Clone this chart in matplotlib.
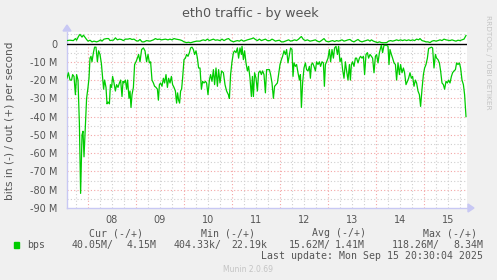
import matplotlib
matplotlib.use("Agg")
import matplotlib.pyplot as plt
from matplotlib.patches import Rectangle

# ---------------- data (hours since Sep 07 00:00, Mbit/s) ----------------
in_points = [
    (13.5, 18.9), (14.2, 16), (15, 20), (15.8, 20), (16.3, 17), (17, 18), (17.7, 28), (18.3, 17),
    (19, 20), (19.7, 44), (20.3, 82), (21, 50), (21.5, 48), (22, 62), (22.7, 44), (23.3, 30),
    (24, 24), (24.5, 19), (25, 8), (25.5, 7), (26, 10), (26.7, 5), (27.3, 2), (28, 2),
    (28.7, 10), (29.3, 4), (30, 6), (30.7, 11), (31.3, 19), (31.8, 25), (32.3, 20), (33, 24),
    (33.5, 33), (34, 32), (34.7, 33), (35.2, 22.5), (35.8, 24), (36.3, 18), (37, 21.6), (37.7, 26),
    (38.3, 22.5), (39, 24), (39.7, 21.6), (40.3, 20), (41, 29), (41.5, 20.7), (42, 21.6), (42.7, 20),
    (43.3, 25), (43.8, 20), (44.5, 30), (45, 26), (45.5, 35), (46, 28), (46.7, 24), (47.3, 11.5),
    (48, 10), (48.7, 8), (49.3, 6), (50, 10), (50.8, 3.3), (51.7, 2.4), (52.5, 4), (53.3, 10),
    (54, 6), (54.7, 10.6), (55.3, 10), (56, 20), (56.7, 21.6), (57.3, 23.4), (58, 24), (58.7, 25),
    (59.2, 31), (59.7, 22.5), (60.3, 21.6), (61, 23.4), (61.7, 19), (62.3, 21.6), (63, 17), (63.7, 24),
    (64.3, 19), (65, 21.6), (65.7, 18), (66.3, 22.5), (67, 24), (67.7, 26), (68.3, 32.6), (68.8, 27),
    (69.3, 31), (69.8, 32.6), (70.3, 26), (70.8, 25), (71.3, 19), (72, 8.8), (72.7, 8), (73.3, 6),
    (74, 7), (74.7, 5), (75.3, 2.4), (76, 2), (76.7, 3.3), (77.3, 6), (78, 4), (78.7, 8),
    (79.3, 13.4), (80, 13.4), (80.7, 25), (81.3, 20.7), (82, 21.6), (82.7, 20.7), (83.3, 21.6), (84, 28),
    (84.7, 20), (85.3, 17), (86, 20.7), (86.7, 14.3), (87.3, 22.5), (88, 13.4), (88.7, 23.4), (89.3, 14.3),
    (90, 21.6), (90.8, 15), (91.7, 16), (92.5, 22.5), (93.3, 26), (94.2, 28), (94.7, 30), (95.3, 17),
    (96, 10), (96.7, 5), (97.3, 4), (98, 5), (98.7, 2.4), (99.3, 8), (100, 2.4), (100.7, 6),
    (101, 1.5), (101.7, 8.8), (102.3, 4), (103, 10.6), (103.7, 15), (104.3, 12.5), (105, 19), (105.7, 29),
    (106.2, 18), (106.7, 29), (107.3, 16), (108, 19), (108.7, 26), (109.3, 16), (110, 15), (110.7, 17),
    (111.3, 15), (112, 17), (112.7, 27), (113.3, 14.3), (114, 14.3), (114.7, 14.3), (115.3, 17), (116, 21.6),
    (116.7, 30), (117.3, 23.4), (118, 22.5), (118.7, 21.6), (119.3, 17), (120, 11.5), (120.7, 8.8), (121.3, 7),
    (122, 4), (122.7, 6), (123.3, 3.3), (124, 10.6), (124.7, 6), (125.3, 2.4), (126, 3.3), (126.5, 18),
    (127, 10.6), (127.7, 12.5), (128.3, 11.5), (129, 16), (129.7, 20), (130.2, 17), (130.7, 35), (131.3, 21.6),
    (132, 13.4), (132.7, 10.6), (133.3, 14.3), (134, 15), (134.7, 12.5), (135.2, 19), (135.7, 11.5), (136.3, 10.6),
    (137, 12.5), (137.7, 15), (138.3, 10), (139, 11.5), (139.7, 10), (140.3, 12.5), (141, 10), (141.7, 10.6),
    (142.2, 23.4), (142.7, 11.5), (143.3, 10), (144, 8), (144.7, 3.3), (145.3, 10), (146, 3.3), (146.7, 8),
    (147.3, 2.4), (148, 1.5), (148.7, 6), (149.3, 1.5), (150, 10), (150.7, 8), (151.3, 14.3), (152, 19),
    (152.7, 10), (153.3, 15), (154, 20), (154.7, 11.5), (155.2, 20), (155.7, 11.5), (156.3, 10), (157, 12.5),
    (157.7, 8), (158.3, 8), (159, 10.6), (159.7, 8), (160.3, 7), (161, 8), (161.7, 7), (162.3, 17),
    (163, 6), (163.7, 5), (164.3, 8), (165, 6), (165.7, 7), (166.3, 8), (167, 16), (167.7, 7),
    (168.3, 6), (169, 10.6), (169.7, 5), (170.3, 2.4), (170.7, 1), (171.3, 5), (172, 1), (172.7, 1),
    (173.3, 1), (174, 1.5), (174.5, 11.5), (175, 3.3), (175.7, 6), (176.3, 8), (177, 10.6), (177.7, 11.5),
    (178.3, 20), (179, 10.6), (179.7, 17), (180.3, 11.5), (181, 16), (181.7, 13.4), (182.3, 16), (183, 22.5),
    (183.7, 20.7), (184.3, 19), (185, 16), (185.7, 19), (186.3, 18), (187, 23.4), (187.7, 20), (188.3, 21.6),
    (189, 26), (189.7, 28), (190.3, 34.4), (191, 25), (191.7, 17), (192.3, 13.4), (193, 11.5), (193.7, 8),
    (194.3, 2.7), (195, 2.4), (195.7, 2), (196.3, 2.4), (197, 13.4), (197.7, 6), (198.3, 8), (199, 8.8),
    (199.7, 10.6), (200.3, 15), (201, 21.6), (201.7, 22.5), (202.3, 25), (203, 20.7), (203.7, 21.6), (204.3, 20),
    (205, 21.6), (205.7, 18), (206.3, 16), (207, 15), (207.7, 14.3), (208.3, 10.6), (209, 11.5), (209.7, 10.6),
    (210.3, 13.4), (211, 20), (211.7, 22.5), (212.3, 28), (213, 40),
]

out_points = [
    (13.5, 1.6), (15, 1.8), (16.7, 1.6), (17.7, 2.7), (18.3, 1.8), (19.3, 4), (20, 5), (21, 3.5),
    (21.7, 4.6), (22.7, 3.1), (23.3, 2.2), (24, 1.3), (25, 1.8), (26, 0.9), (27, 1.3), (28.3, 0.9),
    (29.3, 1.3), (30.3, 2), (31, 1.3), (32, 2.4), (33.3, 2.7), (34.3, 2.7), (35, 1.6), (36, 1.8),
    (36.7, 1.8), (37.7, 3.1), (38.7, 2), (39.7, 2.4), (40.7, 2.2), (41.7, 1.6), (42.7, 2.4), (44, 2.4),
    (45, 2.7), (46, 2.2), (47, 2.4), (48, 1.6), (49, 1.3), (50, 2.2), (51, 0.9), (52, 0.9),
    (53.3, 1.6), (55, 1.3), (56.7, 2), (57.7, 2.7), (58.7, 2.2), (59.7, 2.4), (60.7, 2), (61.7, 2.2),
    (62.7, 2.4), (64, 2), (65, 2.4), (66, 2), (67, 2.7), (68, 2.4), (69, 2.2), (70, 2),
    (71, 1.6), (72, 0.9), (73.3, 0.5), (74.3, 0.7), (75.3, 0.4), (76.7, 0.9), (78.3, 1.3), (80, 1.3),
    (81, 1.8), (81.7, 2), (82.7, 1.6), (83.7, 2.4), (84.7, 1.6), (85.7, 2), (86.7, 2.4), (87.7, 1.8),
    (88.7, 2), (90, 1.6), (91, 2.4), (92, 1.6), (93.3, 2.4), (94.3, 2.7), (95.3, 1.6), (96.7, 0.9),
    (97.7, 1.3), (98.7, 1.6), (99.7, 1.3), (100.7, 2), (101.7, 1.3), (102.7, 1.6), (103.7, 2), (105, 2.4),
    (106, 2.7), (106.7, 3.1), (107.7, 2.2), (108.7, 1.6), (109.7, 2.4), (110.7, 1.6), (111.7, 2), (112.7, 2.4),
    (113.7, 1.6), (115, 1.6), (116, 2.4), (116.7, 2), (117.7, 1.3), (118.7, 1.6), (119.7, 1.8), (120.7, 0.9),
    (121.7, 0.9), (122.7, 1.3), (123.3, 1.6), (124.3, 2), (125.3, 1.3), (126.3, 1.6), (127.3, 2), (128.3, 1.6),
    (129.3, 2.4), (130.3, 3.5), (130.7, 3.8), (131.7, 2.2), (132.7, 1.6), (133.7, 2), (135, 1.3), (136.3, 1.6),
    (137.7, 2), (138.7, 1.3), (139.7, 0.9), (140.7, 1.6), (142, 2.7), (143, 1.3), (144.3, 0.9), (145.3, 1.3),
    (146.3, 1.6), (147.3, 1.1), (148.3, 1.6), (149.3, 1.3), (150, 1.6), (151, 2), (152, 1.3), (153, 1.6),
    (154, 2), (155, 2.2), (156, 1.3), (157, 0.9), (158, 1.6), (159, 2.2), (160, 1.3), (161, 0.9),
    (162, 1.3), (163, 1.6), (164, 2), (165, 1.3), (165.7, 2), (166.7, 1.3), (167.7, 0.9), (168.7, 0.5),
    (169.7, 0.9), (170.7, 0.5), (171.7, 0.4), (173.3, 0.5), (174.3, 1.3), (175.3, 1.6), (176.3, 1.3), (177.3, 1.6),
    (178.3, 2), (179.3, 1.6), (180.3, 2), (181.3, 1.6), (182.3, 2), (183.3, 1.6), (184.3, 2), (185.3, 1.6),
    (186.3, 2), (187.3, 1.6), (188.3, 2.4), (189.3, 2), (190, 2.7), (191, 1.6), (192, 1.3), (193, 0.9),
    (194, 0.9), (195, 0.5), (196, 1.3), (197, 1.6), (198, 1.3), (199, 1.6), (200, 2), (201, 1.6),
    (202, 2.4), (203, 2), (204, 1.8), (205, 1.6), (206, 2), (207, 1.6), (208, 1.3), (209, 1.8),
    (210, 1.6), (211, 2), (212, 2.4), (212.7, 3.8), (213, 4.4),
]

day_labels = ["08", "09", "10", "11", "12", "13", "14", "15"]
y_ticks = [0, -10, -20, -30, -40, -50, -60, -70, -80, -90]
y_labels = ["0", "-10 M", "-20 M", "-30 M", "-40 M", "-50 M", "-60 M", "-70 M", "-80 M", "-90 M"]

legend_heads = ["Cur (-/+)", "Min (-/+)", "Avg (-/+)", "Max (-/+)"]
legend_vals = [("40.05M/", "4.15M"), ("404.33k/", "22.19k"), ("15.62M/", "1.41M"), ("118.26M/", "8.34M")]
last_update = "Last update: Mon Sep 15 20:30:04 2025"

# ---------------- figure ----------------
W, H = 497, 280
fig = plt.figure(figsize=(W / 100, H / 100), dpi=100, facecolor="#f0f0f0")
L, R, T, B = 67, 467, 32, 208
ax = fig.add_axes([L / W, 1 - B / H, (R - L) / W, (B - T) / H])
ax.set_facecolor("white")

x0, x1 = 13.5, 213.5
ax.set_xlim(x0, x1)
ax.set_ylim(-90, 6.3)

GREEN = "#00cc00"
MAJOR = "#f4a6a6"
MINOR = "#cfcfcf"
dots = (0, (1, 2))

# grid
for h in range(18, 214, 6):
    if h % 24 == 0:
        continue
    ax.axvline(h, color=MINOR, lw=0.8, ls=dots, zorder=1)
for h in range(24, 214, 24):
    ax.axvline(h, color=MAJOR, lw=0.8, ls=dots, zorder=1)
for v in range(5, -90, -10):
    ax.axhline(v, color=MINOR, lw=0.8, ls=dots, zorder=1)
for v in y_ticks[1:-1]:
    ax.axhline(v, color=MAJOR, lw=0.8, ls=dots, zorder=1)
ax.axhline(0, color="black", lw=1.0, zorder=3)

in_h, in_v = zip(*in_points)
out_h, out_v = zip(*out_points)
ax.plot(in_h, [-v for v in in_v], color=GREEN, lw=0.9, zorder=4)
ax.plot(out_h, out_v, color=GREEN, lw=0.9, zorder=4)

# ticks
ax.set_yticks(y_ticks)
ax.set_yticklabels(y_labels)
ax.set_xticks([36 + 24 * i for i in range(len(day_labels))])
ax.set_xticklabels(day_labels)
ax.tick_params(axis="both", length=0, labelsize=7, colors="#555555")
ax.tick_params(axis="y", pad=7)
ax.tick_params(axis="x", pad=5)

for s in ["top", "right"]:
    ax.spines[s].set_visible(False)
for s in ["left", "bottom"]:
    ax.spines[s].set_color("#c8c8f4")
    ax.spines[s].set_linewidth(1.0)

# axis arrows
fig.patches.append(plt.Polygon([[L / W - 4 / W, 1 - 31 / H], [L / W + 4 / W, 1 - 31 / H], [L / W, 1 - 25 / H]],
                               closed=True, transform=fig.transFigure, color="#c8c8f4"))
fig.patches.append(plt.Polygon([[(R + 1) / W, 1 - (B - 4) / H], [(R + 1) / W, 1 - (B + 4) / H], [(R + 7) / W, 1 - B / H]],
                               closed=True, transform=fig.transFigure, color="#c8c8f4"))

# texts
fig.text(250 / W, 1 - 13 / H, "eth0 traffic - by week", ha="center", va="center", fontsize=9.2, color="#555555")
fig.text(10 / W, 1 - 121 / H, "bits in (-) / out (+) per second", rotation=90, ha="center", va="center",
         fontsize=7.6, color="#555555")
fig.text(488 / W, 1 - 62 / H, "RRDTOOL / TOBI OETIKER", rotation=270, ha="center", va="center",
         fontsize=5.3, color="#c4c4c4")

mono = dict(family="DejaVu Sans Mono", fontsize=7.1, color="#555555", va="center")
head_x = [89, 201, 312, 423]
for x, t in zip(head_x, legend_heads):
    fig.text(x / W, 1 - 233 / H, t, ha="left", **mono)
fig.patches.append(Rectangle((14 / W, 1 - 248 / H), 5 / W, 6 / H, transform=fig.transFigure, color=GREEN))
fig.text(27 / W, 1 - 245 / H, "bps", ha="left", **mono)
val_x = [(72, 157), (174, 267), (289, 365), (392, 483)]
for (xa, xb), (a, b) in zip(val_x, legend_vals):
    fig.text(xa / W, 1 - 245 / H, a, ha="left", **mono)
    fig.text(xb / W, 1 - 245 / H, b, ha="right", **mono)
fig.text(483 / W, 1 - 256 / H, last_update, ha="right", **mono)
fig.text(248 / W, 1 - 269 / H, "Munin 2.0.69", ha="center", va="center", fontsize=5.5, color="#c4c4c4")

fig.savefig("out.png", dpi=100, facecolor=fig.get_facecolor())
